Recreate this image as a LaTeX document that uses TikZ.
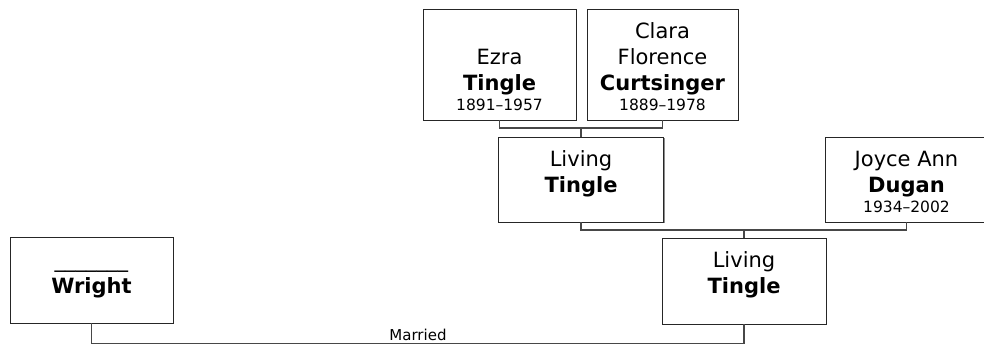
\documentclass[tikz,border=0pt]{standalone}
\usepackage{fontspec}
\setmainfont{DejaVu Sans}
\usetikzlibrary{shadows}
\newcommand{\nmfont}{\fontsize{21}{26}\selectfont}
\newcommand{\dtfont}{\fontsize{15.5}{20}\selectfont}
\begin{document}
\begin{tikzpicture}[x=1pt,y=-1pt,
  person/.style={draw=black!85, line width=1pt, fill=white, inner sep=0pt, outer sep=0pt,
    drop shadow={shadow xshift=1pt, shadow yshift=-1pt, fill=black!45, opacity=1}},
  ptext/.style={anchor=base, inner sep=0pt, text=black},
  link/.style={draw=black!72, line width=1.6pt}]
\useasboundingbox (0,0) rectangle (984,345);
% boxes
\node[person, minimum width=153pt, minimum height=110pt] (ezra)   at (499.5,65) {};
\node[person, minimum width=151pt, minimum height=110pt] (clara)  at (662.5,65) {};
\node[person, minimum width=165pt, minimum height=85pt]  (lt1)    at (581,179.5) {};
\node[person, minimum width=163pt, minimum height=85pt]  (joyce)  at (906.5,179.5) {};
\node[person, minimum width=163pt, minimum height=86pt]  (wright) at (91.5,280) {};
\node[person, minimum width=164pt, minimum height=86pt]  (lt2)    at (744,281) {};
% texts
\node[ptext] (ezraT) at (499.5,64) {\parbox[t]{150pt}{\centering\nmfont Ezra\\\textbf{Tingle}\par\dtfont 1891–1957\par}};
\node[ptext] (claraT) at (662.5,38) {\parbox[t]{150pt}{\centering\nmfont Clara\\Florence\\\textbf{Curtsinger}\par\dtfont 1889–1978\par}};
\node[ptext] (lt1T) at (581,166) {\parbox[t]{160pt}{\centering\nmfont Living\\\textbf{Tingle}\par}};
\node[ptext] (joyceT) at (906.5,166) {\parbox[t]{160pt}{\centering\nmfont Joyce Ann\\\textbf{Dugan}\par\dtfont 1934–2002\par}};
\node[ptext] (wrightT) at (91.5,267) {\parbox[t]{160pt}{\centering\nmfont \_\_\_\_\_\_\_\\\textbf{Wright}\par}};
\node[ptext] (lt2T) at (744,267) {\parbox[t]{160pt}{\centering\nmfont Living\\\textbf{Tingle}\par}};
% connectors
\coordinate (c1) at (581,128);
\draw[link] (ezra.south) |- (c1 -| clara.south) -- (clara.south);
\draw[link] (c1) -- (lt1.north);
\coordinate (c2) at (744,230);
\draw[link] (lt1.south) |- (c2 -| joyce.south) -- (joyce.south);
\draw[link] (c2) -- (lt2.north);
\coordinate (c3) at (418,343.5);
\draw[link] (wright.south) |- (c3 -| lt2.south) -- (lt2.south);
\node[ptext, font=\fontsize{15}{18}\selectfont] (married) at (418,340) {Married};
\end{tikzpicture}
\end{document}
